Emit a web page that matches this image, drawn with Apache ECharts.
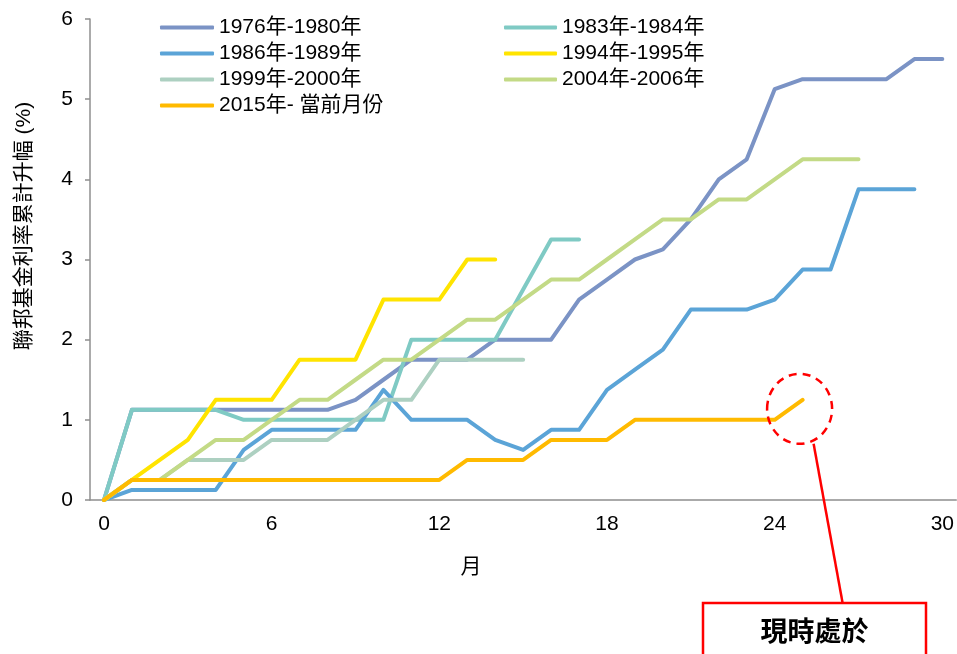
<!DOCTYPE html>
<html>
<head>
<meta charset="utf-8">
<script src="https://cdn.jsdelivr.net/npm/echarts@6/dist/echarts.min.js"></script>
<style>
html,body{margin:0;padding:0;background:#fff;}
#c{width:957px;height:654px;}
</style>
</head>
<body>
<div id="c"></div>
<script>
const months = Array.from({length: 31}, (_, i) => String(i));
const s1976 = [0,1.125,1.125,1.125,1.125,1.125,1.125,1.125,1.125,1.25,1.5,1.75,1.75,1.75,2,2,2,2.5,2.75,3,3.125,3.5,4,4.25,5.125,5.25,5.25,5.25,5.25,5.5,5.5];
const s1983 = [0,1.125,1.125,1.125,1.125,1,1,1,1,1,1,2,2,2,2,2.625,3.25,3.25];
const s1986 = [0,0.125,0.125,0.125,0.125,0.625,0.875,0.875,0.875,0.875,1.375,1,1,1,0.75,0.625,0.875,0.875,1.375,1.625,1.875,2.375,2.375,2.375,2.5,2.875,2.875,3.875,3.875,3.875];
const s1994 = [0,0.25,0.5,0.75,1.25,1.25,1.25,1.75,1.75,1.75,2.5,2.5,2.5,3,3];
const s1999 = [0,0.25,0.25,0.5,0.5,0.5,0.75,0.75,0.75,1,1.25,1.25,1.75,1.75,1.75,1.75];
const s2004 = [0,0.25,0.25,0.5,0.75,0.75,1,1.25,1.25,1.5,1.75,1.75,2,2.25,2.25,2.5,2.75,2.75,3,3.25,3.5,3.5,3.75,3.75,4,4.25,4.25,4.25];
const s2015 = [0,0.25,0.25,0.25,0.25,0.25,0.25,0.25,0.25,0.25,0.25,0.25,0.25,0.5,0.5,0.5,0.75,0.75,0.75,1,1,1,1,1,1,1.25];
const names = ['1976年-1980年','1983年-1984年','1986年-1989年','1994年-1995年','1999年-2000年','2004年-2006年','2015年- 當前月份'];
const colors = ['#7B93C5','#7FCAC4','#5BA4D7','#FFE400','#ADD0C1','#C3DA86','#FFBA00'];
const seriesData = [s1976,s1983,s1986,s1994,s1999,s2004,s2015];
const yTicks = [0,1,2,3,4,5,6];
const yTitle = '聯邦基金利率累計升幅 (%)';
const xTitle = '月';
const calloutText = '現時處於';

const FONT = '"Liberation Sans", Arial, "Noto Sans CJK TC", sans-serif';
const chart = echarts.init(document.getElementById('c'), null, {renderer: 'canvas'});

const legendText = {fontSize: 21, color: '#000', fontFamily: FONT};
const option = {
  animation: false,
  color: colors,
  grid: {left: 90, right: 0, top: 19, bottom: 154, containLabel: false},
  legend: [
    {data: [names[0], names[2], names[4], names[6]], orient: 'vertical', left: 155, top: 12,
     itemWidth: 54, itemHeight: 4, itemGap: 5, icon: 'roundRect', textStyle: legendText},
    {data: [names[1], names[3], names[5]], orient: 'vertical', left: 499, top: 12,
     itemWidth: 53, itemHeight: 4, itemGap: 5, icon: 'roundRect', textStyle: legendText}
  ],
  xAxis: {
    type: 'category', data: months, boundaryGap: true,
    axisLine: {lineStyle: {color: '#8f8f8f', width: 1.5}},
    axisTick: {interval: 0, length: 5, lineStyle: {color: '#8f8f8f', width: 1.5}},
    axisLabel: {interval: 5, margin: 14, fontSize: 21, color: '#000', fontFamily: FONT},
    splitLine: {show: false}
  },
  yAxis: {
    type: 'value', min: yTicks[0], max: yTicks[yTicks.length-1], interval: 1,
    axisLine: {show: true, lineStyle: {color: '#8f8f8f', width: 1.5}},
    axisTick: {show: true, length: 5, lineStyle: {color: '#8f8f8f', width: 1.5}},
    axisLabel: {margin: 17, fontSize: 21, color: '#000', fontFamily: FONT},
    splitLine: {show: false}
  },
  series: seriesData.map((d, i) => ({
    name: names[i], type: 'line', data: d, symbol: 'none', showSymbol: false,
    lineStyle: {width: 4, color: colors[i], cap: 'round', join: 'round'},
    itemStyle: {color: colors[i]}, z: 2 + i
  }))
};
chart.setOption(option);

// annotation anchored to the latest point of the 2015 series
const last = s2015.length - 1;
const p = chart.convertToPixel({xAxisIndex: 0, yAxisIndex: 0}, [String(last), s2015[last]]);
const cx = p[0] - 3, cy = p[1] + 9;
chart.setOption({
  graphic: [
    {type: 'text', x: 24, y: 226, rotation: Math.PI / 2,
     style: {text: yTitle, font: '21px ' + FONT, fill: '#000', align: 'center', verticalAlign: 'middle'}},
    {type: 'text', x: 471, y: 567,
     style: {text: xTitle, font: '21px ' + FONT, fill: '#000', align: 'center', verticalAlign: 'middle'}},
    {type: 'ellipse', shape: {cx: cx, cy: cy, rx: 32.5, ry: 35},
     style: {fill: 'none', stroke: '#FF0000', lineWidth: 2.5, lineDash: [8, 6]}, z: 100},
    {type: 'line', shape: {x1: cx + 14, y1: cy + 35, x2: cx + 43, y2: 603},
     style: {stroke: '#FF0000', lineWidth: 2.5}, z: 100},
    {type: 'rect', shape: {x: 703, y: 603, width: 223, height: 80},
     style: {fill: '#fff', stroke: '#FF0000', lineWidth: 2.5}, z: 100},
    {type: 'text', x: 814.5, y: 631,
     style: {text: calloutText, font: 'bold 27px "Noto Sans CJK TC", sans-serif', fill: '#000', align: 'center', verticalAlign: 'middle'}, z: 101}
  ]
});
</script>
</body>
</html>
